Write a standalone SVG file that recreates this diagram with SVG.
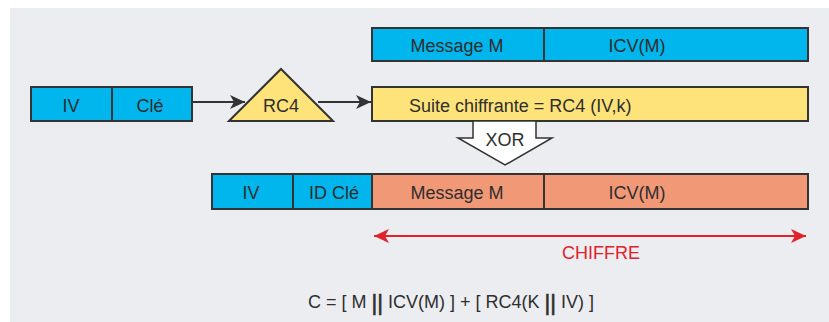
<svg xmlns="http://www.w3.org/2000/svg" width="829" height="322" viewBox="0 0 829 322">
  <style>
    .box { stroke: #333; stroke-width: 2; }
    .blue { fill: #00b6ed; }
    .yellow { fill: #fee37a; }
    .salmon { fill: #f19877; }
    .lbl { font-family: "Liberation Sans", Arial, sans-serif; font-size: 18px; fill: #2e2e2e; text-anchor: middle; }
    .bars { font-size: 22px; stroke: #2e2e2e; stroke-width: 0.6; }
    .div { stroke: #333; stroke-width: 2; }
    .link { stroke: #333; stroke-width: 2; fill: none; }
    .red { stroke: #e0222b; stroke-width: 2; fill: none; }
  </style>
  <defs>
    <marker id="ah" markerWidth="16" markerHeight="14" refX="15" refY="7" orient="auto" markerUnits="userSpaceOnUse">
      <path d="M0,0 L15,7 L0,14 L4,7 Z" fill="#333"/>
    </marker>
    <marker id="rh" markerWidth="16" markerHeight="14" refX="15" refY="7" orient="auto-start-reverse" markerUnits="userSpaceOnUse">
      <path d="M0,0 L15,7 L0,14 L4,7 Z" fill="#e0222b"/>
    </marker>
  </defs>

  <!-- panel -->
  <rect x="10" y="8" width="819" height="314" fill="#ecedf0"/>

  <g id="connectors">
    <line class="link" x1="192" y1="102" x2="245" y2="102" marker-end="url(#ah)"/>
    <line class="link" x1="318" y1="102" x2="371" y2="102" marker-end="url(#ah)"/>
    <line class="red" x1="374" y1="236" x2="806" y2="236" marker-start="url(#rh)" marker-end="url(#rh)"/>
  </g>

  <g id="message-top">
    <rect class="box blue" x="372" y="28" width="436" height="33"/>
    <line class="div" x1="544" y1="28" x2="544" y2="61"/>
    <text class="lbl" x="457" y="52">Message M</text>
    <text class="lbl" x="637" y="52">ICV(M)</text>
  </g>

  <g id="iv-cle">
    <rect class="box blue" x="31" y="87" width="161" height="34"/>
    <line class="div" x1="112" y1="87" x2="112" y2="121"/>
    <text class="lbl" x="71" y="112">IV</text>
    <text class="lbl" x="150" y="112">Clé</text>
  </g>

  <g id="rc4">
    <polygon class="box yellow" points="281,69 333,121 229,121"/>
    <text class="lbl" x="281" y="112">RC4</text>
  </g>

  <g id="keystream">
    <rect class="box yellow" x="372" y="87" width="436" height="34"/>
    <text class="lbl" x="409" y="112" style="text-anchor:start">Suite chiffrante = RC4 (IV,k)</text>
  </g>

  <g id="xor">
    <polygon points="473,121 473,138 458,138 505,165 552,138 536,138 536,121" fill="#fff" stroke="#333" stroke-width="1.5"/>
    <text class="lbl" x="505" y="146">XOR</text>
  </g>

  <g id="frame">
    <rect class="box salmon" x="212" y="174" width="596" height="35"/>
    <rect class="box blue" x="212" y="174" width="160" height="35"/>
    <line class="div" x1="293" y1="174" x2="293" y2="209"/>
    <line class="div" x1="544" y1="174" x2="544" y2="209"/>
    <text class="lbl" x="251" y="199">IV</text>
    <text class="lbl" x="334" y="199">ID Clé</text>
    <text class="lbl" x="457" y="199">Message M</text>
    <text class="lbl" x="637" y="199">ICV(M)</text>
  </g>

  <g id="chiffre">
    <text class="lbl" x="601" y="259" style="fill:#e0222b">CHIFFRE</text>
  </g>

  <g id="formula">
    <text class="lbl" x="451" y="308">C = [ M <tspan class="bars" dy="2">||</tspan><tspan dy="-2"> ICV(M) ] + [ RC4(K </tspan><tspan class="bars" dy="2">||</tspan><tspan dy="-2"> IV) ]</tspan></text>
  </g>
</svg>
